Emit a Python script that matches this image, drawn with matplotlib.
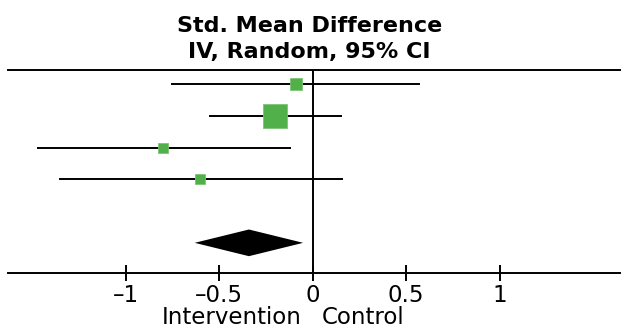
import matplotlib
matplotlib.use("Agg")
from matplotlib import pyplot as plt

# study estimates (std. mean difference) and 95% CI
est = [-0.09, -0.20, -0.80, -0.60]
lo = [-0.75, -0.55, -1.47, -1.35]
hi = [0.57, 0.15, -0.12, 0.16]
weights = [17.3, 57.9, 12.9, 11.9]  # % weight, square area

# pooled estimate (random effects)
pooled = -0.34
pooled_lo = -0.63
pooled_hi = -0.05

ticks = [-1, -0.5, 0, 0.5, 1]
tick_labels = ["\u20131", "\u20130.5", "0", "0.5", "1"]

green = "#52b04a"

W, H = 624, 335
fig = plt.figure(figsize=(W / 100, H / 100), dpi=100)
top_px, bot_px = 70, 272.7
ax = fig.add_axes([8 / W, (H - bot_px) / H, 612 / W, (bot_px - top_px) / H])

rows = list(range(len(est)))
for r in rows:
    ax.plot([lo[r], hi[r]], [r, r], color="black", lw=1.4, zorder=2)
    size = 3.05 * weights[r] ** 0.5 * 0.72
    ax.plot(est[r], r, marker="s", ms=size, color=green, mec="#7cc476", mew=0.6, zorder=3)

# diamond for the pooled effect
yd = len(est) + 1
h = 0.42
ax.fill([pooled_lo, pooled, pooled_hi, pooled],
        [yd, yd - h, yd, yd + h], color="black", lw=0, zorder=3)

ax.axvline(0, color="black", lw=1.4, zorder=1)

unit = 187.0
ax.set_xlim((8 - 312.5) / unit, (620 - 312.5) / unit)
ax.set_ylim(5.94, -0.44)
ax.set_yticks([])
ax.set_xticks(ticks)
ax.set_xticklabels(tick_labels, fontsize=16.5)
ax.tick_params(axis="x", direction="inout", length=12, width=1.4, pad=2.3)
ax.spines["left"].set_visible(False)
ax.spines["right"].set_visible(False)
ax.spines["top"].set_linewidth(1.4)
ax.spines["bottom"].set_linewidth(1.4)

fig.text(310 / W, 1 - 31.7 / H, "Std. Mean Difference", ha="center", va="baseline",
         fontsize=16, fontweight="bold")
fig.text(309 / W, 1 - 58.3 / H, "IV, Random, 95% CI", ha="center", va="baseline",
         fontsize=16, fontweight="bold")
fig.text(302 / W, 1 - 323.5 / H, "Intervention", ha="right", va="baseline", fontsize=16.5)
fig.text(322 / W, 1 - 323.5 / H, "Control", ha="left", va="baseline", fontsize=16.5)

fig.savefig("out.png", dpi=100)
